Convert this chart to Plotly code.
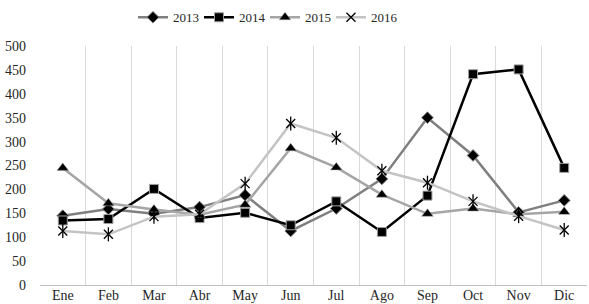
import plotly.graph_objects as go

months = ["Ene", "Feb", "Mar", "Abr", "May", "Jun", "Jul", "Ago", "Sep", "Oct", "Nov", "Dic"]
y2013 = [145, 159, 149, 163, 188, 113, 160, 222, 350, 271, 152, 177]
y2014 = [135, 138, 201, 140, 151, 125, 175, 111, 187, 441, 451, 245]
y2015 = [245, 171, 158, 147, 168, 286, 246, 189, 149, 160, 148, 153]
y2016 = [113, 106, 143, 148, 212, 338, 308, 239, 214, 175, 144, 115]
yticks = [0, 50, 100, 150, 200, 250, 300, 350, 400, 450, 500]

font = "Liberation Serif"
fig = go.Figure()
fig.add_trace(go.Scatter(x=months, y=y2013, name="2013", mode="lines+markers",
                         line=dict(color="#7f7f7f", width=2.5),
                         marker=dict(symbol="diamond", size=9, color="black",
                                     line=dict(color="#7f7f7f", width=1))))
fig.add_trace(go.Scatter(x=months, y=y2014, name="2014", mode="lines+markers",
                         line=dict(color="black", width=2.5),
                         marker=dict(symbol="square", size=9, color="black",
                                     line=dict(color="#a0a0a0", width=1))))
fig.add_trace(go.Scatter(x=months, y=y2015, name="2015", mode="lines+markers",
                         line=dict(color="#a5a5a5", width=2.5),
                         marker=dict(symbol="triangle-up", size=10, color="black",
                                     line=dict(color="#a5a5a5", width=0.5))))
fig.add_trace(go.Scatter(x=months, y=y2016, name="2016", mode="lines+markers",
                         legendgroup="2016",
                         line=dict(color="#c4c4c4", width=2.5),
                         marker=dict(symbol="x-thin-open", size=9, color="black",
                                     line=dict(color="black", width=1.3))))
fig.add_trace(go.Scatter(x=months, y=y2016, name="2016", mode="markers",
                         legendgroup="2016", showlegend=False,
                         marker=dict(symbol="line-ns-open", size=10, color="black",
                                     line=dict(color="black", width=1.3))))

fig.update_layout(
    width=589, height=304,
    margin=dict(l=40, r=2, t=42, b=19),
    paper_bgcolor="white", plot_bgcolor="white",
    font=dict(family=font, size=14, color="#262626"),
    showlegend=True,
    legend=dict(orientation="h", x=0.17, xanchor="left", y=1.12, yanchor="middle",
                font=dict(family=font, size=13, color="#262626"),
                entrywidth=21, entrywidthmode="pixels",
                itemwidth=30, tracegroupgap=0),
    xaxis=dict(type="category", tickson="boundaries", showgrid=True,
               gridcolor="#d9d9d9", gridwidth=1, ticks="",
               showline=True, linecolor="#bfbfbf", linewidth=1,
               tickfont=dict(family=font, size=14, color="#262626"),
               range=[-0.5, 11.5], zeroline=False, automargin=False,
               ticklabelstandoff=-3),
    yaxis=dict(range=[0, 500], tickvals=yticks, showgrid=False, zeroline=False,
               showline=False, ticks="", automargin=False, ticklabelstandoff=13,
               tickfont=dict(family=font, size=14, color="#262626")),
)
fig.write_html("out.html", config={"displayModeBar": False},
               post_script="document.body.style.margin='0';")
